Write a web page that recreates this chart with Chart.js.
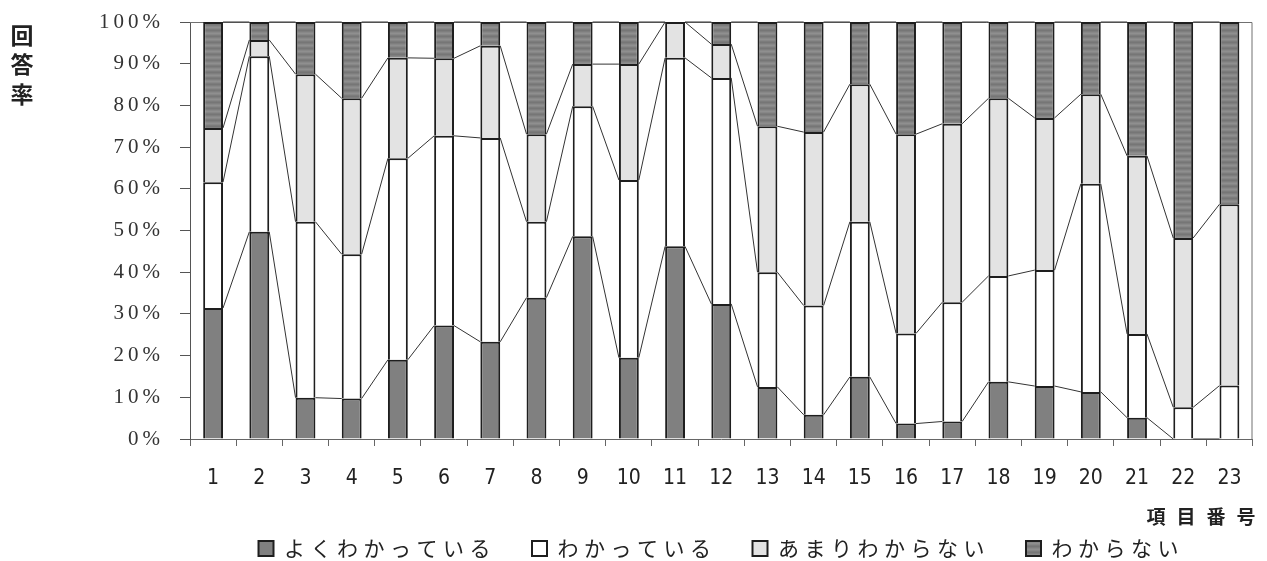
<!DOCTYPE html>
<html lang="ja">
<head>
<meta charset="utf-8">
<title>項目別回答率</title>
<script src="https://cdn.jsdelivr.net/npm/chart.js@4.4.1/dist/chart.umd.min.js"></script>
<style>
  html, body { margin: 0; padding: 0; background: #ffffff; }
  canvas { display: block; }
</style>
</head>
<body>
<canvas id="chart" width="1267" height="561"></canvas>
<script>
// Item numbers along the x axis
const itemLabels = ['1','2','3','4','5','6','7','8','9','10','11','12','13','14','15','16','17','18','19','20','21','22','23'];

// Legend names of the four answer categories
const seriesNames = ['よくわかっている', 'わかっている', 'あまりわからない', 'わからない'];

// Share of answers per item (%)
const wellUnderstood = [31.4, 49.7,  9.9,  9.7, 19.0, 27.2, 23.3, 33.9, 48.6, 19.5, 46.2, 32.4, 12.5,  5.8, 14.9,  3.7,  4.2, 13.7, 12.7, 11.3,  5.1,  0.0,  0.0];
const understood     = [30.2, 42.1, 42.2, 34.6, 48.3, 45.5, 48.9, 18.2, 31.2, 42.6, 45.2, 54.2, 27.5, 26.2, 37.2, 21.6, 28.6, 25.4, 27.8, 49.9, 20.1,  7.6, 12.8];
const notReally      = [13.0,  3.9, 35.4, 37.4, 24.1, 18.6, 22.1, 21.0, 10.1, 27.8,  8.6,  8.1, 35.0, 41.6, 33.0, 47.8, 42.8, 42.6, 36.5, 21.5, 42.7, 40.6, 43.5];
const notAtAll       = [25.4,  4.3, 12.5, 18.3,  8.6,  8.7,  5.7, 26.9, 10.1, 10.1,  0.0,  5.3, 25.0, 26.4, 14.9, 26.9, 24.4, 18.3, 23.0, 17.3, 32.1, 51.8, 43.7];

// Axis titles
const xAxisTitle = '項目番号';
const yAxisTitle = ['回', '答', '率'];

const JP_FONT = '"Noto Sans CJK JP", "Noto Sans", sans-serif';
const NUM_FONT = '"Liberation Sans Narrow", "DejaVu Sans Condensed", "Liberation Sans", sans-serif';
const SERIF_FONT = '"Liberation Serif", "DejaVu Serif", serif';

// Horizontally banded grey fill for the last category
function bandedGrey() {
  const tile = document.createElement('canvas');
  tile.width = 4;
  tile.height = 6;
  const g = tile.getContext('2d');
  ['#767676', '#7e7e7e', '#888888', '#8f8f8f', '#878787', '#7c7c7c'].forEach((c, i) => {
    g.fillStyle = c;
    g.fillRect(0, i, 4, 1);
  });
  return g.createPattern(tile, 'repeat');
}

// Scales that draw their text with extra letter spacing
class SpacedLinearScale extends Chart.LinearScale {
  drawLabels(area) {
    const ctx = this.ctx;
    ctx.save();
    ctx.letterSpacing = '4px';
    super.drawLabels(area);
    ctx.restore();
  }
}
SpacedLinearScale.id = 'spacedLinear';
SpacedLinearScale.defaults = Chart.LinearScale.defaults;

class SpacedCategoryScale extends Chart.CategoryScale {
  drawLabels(area) {
    const ctx = this.ctx;
    ctx.save();
    ctx.letterSpacing = '0px';
    super.drawLabels(area);
    ctx.restore();
  }
  drawTitle() {
    const ctx = this.ctx;
    ctx.save();
    ctx.letterSpacing = '11px';
    ctx.translate(14, 0); // trailing letter spacing pulls the right-aligned title inward
    super.drawTitle();
    ctx.restore();
  }
}
SpacedCategoryScale.id = 'spacedCategory';
SpacedCategoryScale.defaults = Chart.CategoryScale.defaults;

Chart.register(SpacedLinearScale, SpacedCategoryScale);

// Legend text spacing (applied to the whole canvas, scales override it)
const legendSpacing = {
  id: 'legendSpacing',
  beforeLayout(chart) { chart.ctx.letterSpacing = '5.5px'; },
  beforeDraw(chart) { chart.ctx.letterSpacing = '5.5px'; }
};

// Top and right edges of the plot frame
const plotFrame = {
  id: 'plotFrame',
  beforeDatasetsDraw(chart) {
    const { ctx, chartArea: a } = chart;
    ctx.save();
    ctx.strokeStyle = '#707070';
    ctx.lineWidth = 1;
    ctx.beginPath();
    ctx.moveTo(a.left, a.top + 0.5);
    ctx.lineTo(a.right - 0.5, a.top + 0.5);
    ctx.lineTo(a.right - 0.5, a.bottom);
    ctx.stroke();
    ctx.restore();
  }
};

// Series lines joining the top of each segment to the same segment of the next bar
const seriesLines = {
  id: 'seriesLines',
  afterDatasetsDraw(chart) {
    const ctx = chart.ctx;
    ctx.save();
    ctx.strokeStyle = '#333333';
    ctx.lineWidth = 1;
    chart.data.datasets.forEach((ds, di) => {
      const bars = chart.getDatasetMeta(di).data;
      ctx.beginPath();
      for (let i = 0; i < bars.length - 1; i++) {
        const a = bars[i].getProps(['x', 'y', 'width'], true);
        const b = bars[i + 1].getProps(['x', 'y', 'width'], true);
        ctx.moveTo(a.x + a.width / 2, a.y);
        ctx.lineTo(b.x - b.width / 2, b.y);
      }
      ctx.stroke();
    });
    ctx.restore();
  }
};

// Vertical y-axis caption, one character per line
const verticalCaption = {
  id: 'verticalCaption',
  afterDraw(chart) {
    const ctx = chart.ctx;
    ctx.save();
    ctx.letterSpacing = '0px';
    ctx.font = 'bold 23px ' + JP_FONT;
    ctx.fillStyle = '#222222';
    ctx.textAlign = 'center';
    ctx.textBaseline = 'middle';
    const ys = [35, 64, 94];
    yAxisTitle.forEach((ch, i) => ctx.fillText(ch, 22, ys[i]));
    ctx.restore();
  }
};

const outline = '#1e1e1e';
const common = { borderColor: outline, borderWidth: 2, borderSkipped: 'start', barPercentage: 0.43, categoryPercentage: 1.0 };

new Chart(document.getElementById('chart'), {
  type: 'bar',
  data: {
    labels: itemLabels,
    datasets: [
      { label: seriesNames[0], data: wellUnderstood, backgroundColor: '#808080', ...common },
      { label: seriesNames[1], data: understood, backgroundColor: '#ffffff', ...common },
      { label: seriesNames[2], data: notReally, backgroundColor: '#e3e3e3', ...common },
      { label: seriesNames[3], data: notAtAll, backgroundColor: bandedGrey(), ...common }
    ]
  },
  options: {
    responsive: false,
    animation: false,
    devicePixelRatio: 1,
    layout: { padding: { top: 22, right: 3, left: 0, bottom: 0 } },
    plugins: {
      tooltip: { enabled: false },
      legend: {
        position: 'bottom',
        fullSize: false,
        maxHeight: 59,
        labels: {
          boxWidth: 15,
          boxHeight: 15,
          padding: 36,
          color: '#222222',
          font: { family: JP_FONT, size: 21 }
        }
      }
    },
    scales: {
      x: {
        type: 'spacedCategory',
        stacked: true,
        grid: { offset: true, drawOnChartArea: false, drawTicks: true, tickLength: 7, tickColor: '#666666' },
        border: { color: '#666666', width: 1 },
        ticks: {
          autoSkip: false,
          maxRotation: 0,
          padding: 20,
          color: '#222222',
          font: { family: NUM_FONT, size: 21 }
        },
        title: {
          display: true,
          text: xAxisTitle,
          align: 'end',
          color: '#222222',
          font: { family: JP_FONT, size: 19, weight: 'bold' },
          padding: { top: 0, bottom: -26 }
        },
        afterFit(scale) { scale.height = 63; }
      },
      y: {
        type: 'spacedLinear',
        stacked: true,
        min: 0,
        max: 100,
        grid: { drawOnChartArea: false, drawTicks: true, tickLength: 10, tickColor: '#555555' },
        border: { color: '#555555', width: 1 },
        ticks: {
          stepSize: 10,
          padding: 16,
          color: '#333333',
          font: { family: SERIF_FONT, size: 21 },
          callback: (v) => v + '%'
        },
        afterFit(scale) {
          scale.width = 190;
          // the top and bottom labels fit inside the layout padding
          scale.paddingTop = 0;
          scale.paddingBottom = 0;
        }
      }
    }
  },
  plugins: [legendSpacing, plotFrame, seriesLines, verticalCaption]
});
</script>
</body>
</html>
